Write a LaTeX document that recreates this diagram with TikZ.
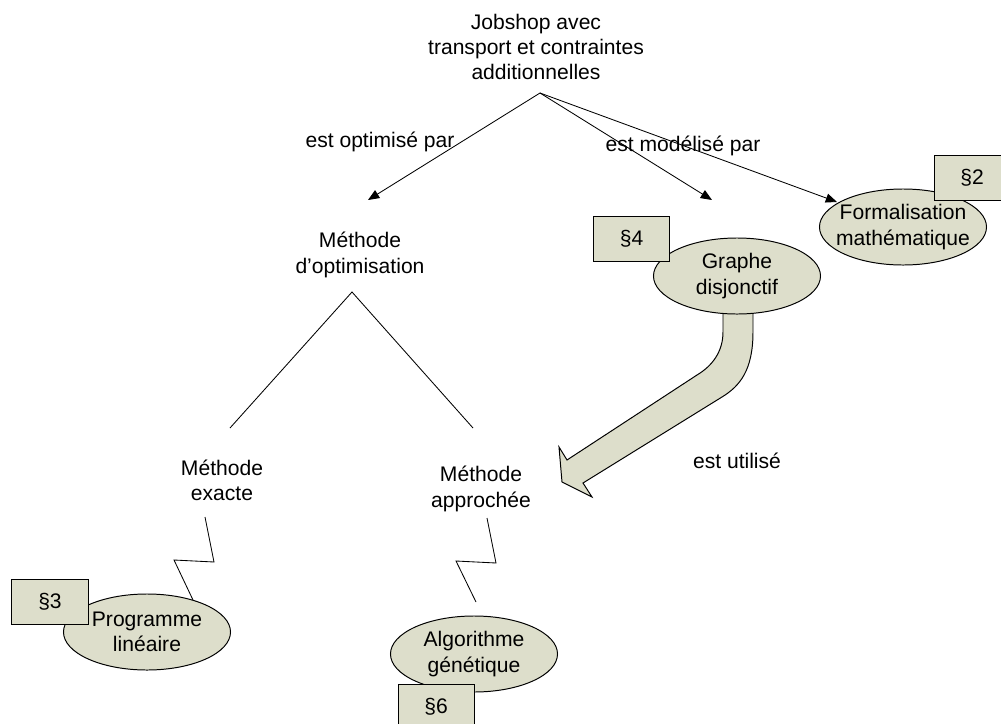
\documentclass[tikz,border=0pt]{standalone}
\usepackage{fontspec}
\setmainfont{Liberation Sans}
\usetikzlibrary{shapes.geometric,arrows.meta}
\definecolor{olivefill}{RGB}{221,222,203}
\begin{document}
\begin{tikzpicture}[x=0.025cm,y=-0.025cm,
  txt/.style={align=center,inner sep=0pt,font=\fontsize{15}{18}\selectfont},
  oval/.style={ellipse,draw=black,fill=olivefill,line width=0.7pt,inner sep=0pt,minimum width=4.175cm,minimum height=1.9cm},
  secbox/.style={rectangle,draw=black,fill=olivefill,line width=0.7pt,inner sep=0pt,minimum width=1.9cm,minimum height=1.125cm,font=\fontsize{15}{18}\selectfont},
  conn/.style={line width=0.6pt},
  arr/.style={conn,-{Triangle[length=8pt,width=6.5pt]}},
  bigarrow/.style={draw=black,fill=olivefill,line width=0.7pt,line join=miter}]
\useasboundingbox (0,0) rectangle (1001,724);
\clip (0,0) rectangle (1001,724);
\fill[white] (0,0) rectangle (1001,724);

% title and top arrows
\node[txt] (title) at (536,47) {Jobshop avec\\transport et contraintes\\additionnelles};
\coordinate (apex) at (540,93);
\coordinate (tipL) at (368,200);
\coordinate (tipM) at (712,200);
\coordinate (tipR) at (837,202);
\draw[arr] (apex) -- (tipL);
\draw[arr] (apex) -- (tipM);
\draw[arr] (apex) -- (tipR);
\node[txt] (lopt) at (380,142) {est optimisé par};
\node[txt] (lmod) at (683,146) {est modélisé par};

% optimisation tree
\node[txt] (optim) at (360,255) {Méthode\\d’optimisation};
\coordinate (optApex) at (352,292);
\coordinate (exTop) at (230,428);
\coordinate (apTop) at (473,428);
\draw[conn] (exTop) -- (optApex) -- (apTop);
\node[txt] (exacte) at (222,480) {Méthode\\exacte};
\node[txt] (approx) at (481,489) {Méthode\\approchée};

% zigzag connectors
\coordinate (zl1) at (205,517);
\coordinate (zl4) at (193,600);
\draw[conn] (zl1) -- ++(9,45) -- ++(-40,-2) -- (zl4);
\coordinate (zr1) at (487,518);
\coordinate (zr4) at (476,602);
\draw[conn] (zr1) -- ++(9,45) -- ++(-40,-2) -- (zr4);

% bent block arrow
\path[bigarrow] (723,305) -- (723,332) .. controls (723,352) and (712,366) .. (697,375)
  -- (567,460) -- (559,447) -- (562,482) -- (592,497) -- (583,483)
  -- (722,397) .. controls (740,386) and (753,370) .. (753,332) -- (753,305) -- cycle;
\node[txt] (lutil) at (737,461) {est utilisé};

% ellipses
\node[oval] (form) at (903,227) {};
\node[txt] at (form.center) {Formalisation\\mathématique};
\node[oval] (graphe) at (737,276) {};
\node[txt] at (graphe.center) {Graphe\\disjonctif};
\node[oval] (prog) at (147,632) {};
\node[txt] at (prog.center) {Programme\\linéaire};
\node[oval] (algo) at (474,654) {};
\node[txt] at (algo.center) {Algorithme\\génétique};

% section boxes
\node[secbox] (s2) at (972,178) {§2};
\node[secbox] (s4) at (631.5,238.5) {§4};
\node[secbox] (s3) at (50,601.5) {§3};
\node[secbox] (s6) at (436,706.5) {§6};
\end{tikzpicture}
\end{document}
